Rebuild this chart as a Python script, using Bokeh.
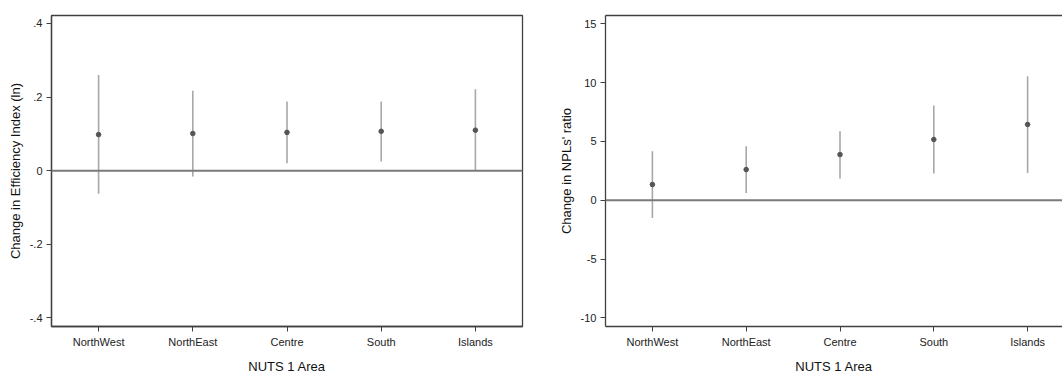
from bokeh.plotting import figure
from bokeh.layouts import row
from bokeh.models import FixedTicker, LinearAxis, Range1d, Span
from bokeh.embed import file_html
from bokeh.resources import INLINE

# NUTS 1 areas
regions = ["NorthWest", "NorthEast", "Centre", "South", "Islands"]

# Change in efficiency index (ln): point estimate and 95% CI
eff_coef = [0.098, 0.101, 0.104, 0.107, 0.110]
eff_lo = [-0.063, -0.016, 0.020, 0.025, -0.001]
eff_hi = [0.260, 0.217, 0.188, 0.188, 0.221]

# Change in NPLs' ratio: point estimate and 95% CI
npl_coef = [1.34, 2.61, 3.89, 5.17, 6.45]
npl_lo = [-1.51, 0.62, 1.85, 2.27, 2.33]
npl_hi = [4.17, 4.60, 5.88, 8.07, 10.56]

eff_ticks = [-0.4, -0.2, 0, 0.2, 0.4]
eff_tick_labels = ["-.4", "-.2", "0", ".2", ".4"]
npl_ticks = [-10, -5, 0, 5, 10, 15]
npl_tick_labels = ["-10", "-5", "0", "5", "10", "15"]

FONT = "Liberation Sans"
FRAME = "#404040"
BAR = "#a8a8a8"
DOT = "#555555"
ZERO = "#7a7a7a"

xs = list(range(1, len(regions) + 1))
region_labels = {i: r for i, r in zip(xs, regions)}


def style(p, ylabel, yticks, ylabels):
    p.xgrid.visible = False
    p.ygrid.visible = False
    p.background_fill_color = "white"
    p.border_fill_color = "white"
    for ax in (p.xaxis[0], p.yaxis[0]):
        ax.axis_line_color = FRAME
        ax.axis_line_width = 1.3
        ax.major_tick_line_color = FRAME
        ax.major_tick_out = 5
        ax.major_tick_in = 0
        ax.minor_tick_line_color = None
        ax.major_label_text_font = FONT
        ax.major_label_text_font_size = "11px"
        ax.major_label_text_color = "#222222"
        ax.axis_label_text_font = FONT
        ax.axis_label_text_font_size = "13px"
        ax.axis_label_text_font_style = "normal"
        ax.axis_label_text_color = "#111111"
    p.xaxis[0].ticker = FixedTicker(ticks=xs)
    p.xaxis[0].major_label_overrides = region_labels
    p.xaxis[0].axis_label = "NUTS 1 Area"
    p.xaxis[0].major_label_standoff = 4
    p.xaxis[0].axis_label_standoff = 8
    p.yaxis[0].ticker = FixedTicker(ticks=yticks)
    p.yaxis[0].major_label_overrides = {t: l for t, l in zip(yticks, ylabels)}
    p.yaxis[0].axis_label = ylabel
    p.yaxis[0].major_label_orientation = "horizontal"
    p.yaxis[0].major_label_standoff = 4
    p.yaxis[0].axis_label_standoff = 4
    p.add_layout(Span(location=0, dimension="width", line_color=ZERO, line_width=2))


def draw(p, coef, lo, hi):
    p.segment(x0=xs, y0=lo, x1=xs, y1=hi, line_color=BAR, line_width=1.6)
    p.scatter(x=xs, y=coef, size=4.6, fill_color=DOT, line_color=DOT)


# Left panel: efficiency index
p1 = figure(width=540, height=376, output_backend="svg", toolbar_location=None,
            x_range=Range1d(0.5, 5.5), y_range=Range1d(-0.4236, 0.4217),
            min_border_left=51, min_border_right=18, min_border_top=15,
            min_border_bottom=50)
p1.outline_line_color = FRAME
p1.outline_line_width = 1.3
p1.outline_line_alpha = 1
style(p1, "Change in Efficiency Index (ln)", eff_ticks, eff_tick_labels)
draw(p1, eff_coef, eff_lo, eff_hi)

# Right panel: NPLs' ratio (frame runs on past the page edge)
p2 = figure(width=522, height=376, output_backend="svg", toolbar_location=None,
            x_range=Range1d(0.5, 5.372), y_range=Range1d(-10.74, 15.72),
            min_border_left=65, min_border_right=0, min_border_top=15,
            min_border_bottom=50)
p2.outline_line_color = None
style(p2, "Change in NPLs' ratio", npl_ticks, npl_tick_labels)
top = LinearAxis(ticker=FixedTicker(ticks=[]), axis_line_color=FRAME,
                 axis_line_width=1.3, major_tick_out=0, major_tick_in=0,
                 minor_tick_out=0, minor_tick_in=0, major_label_standoff=0,
                 major_label_text_font_size="0px")
p2.add_layout(top, "above")
draw(p2, npl_coef, npl_lo, npl_hi)

layout = row(p1, p2)
open("out.html", "w").write(file_html(layout, INLINE))
